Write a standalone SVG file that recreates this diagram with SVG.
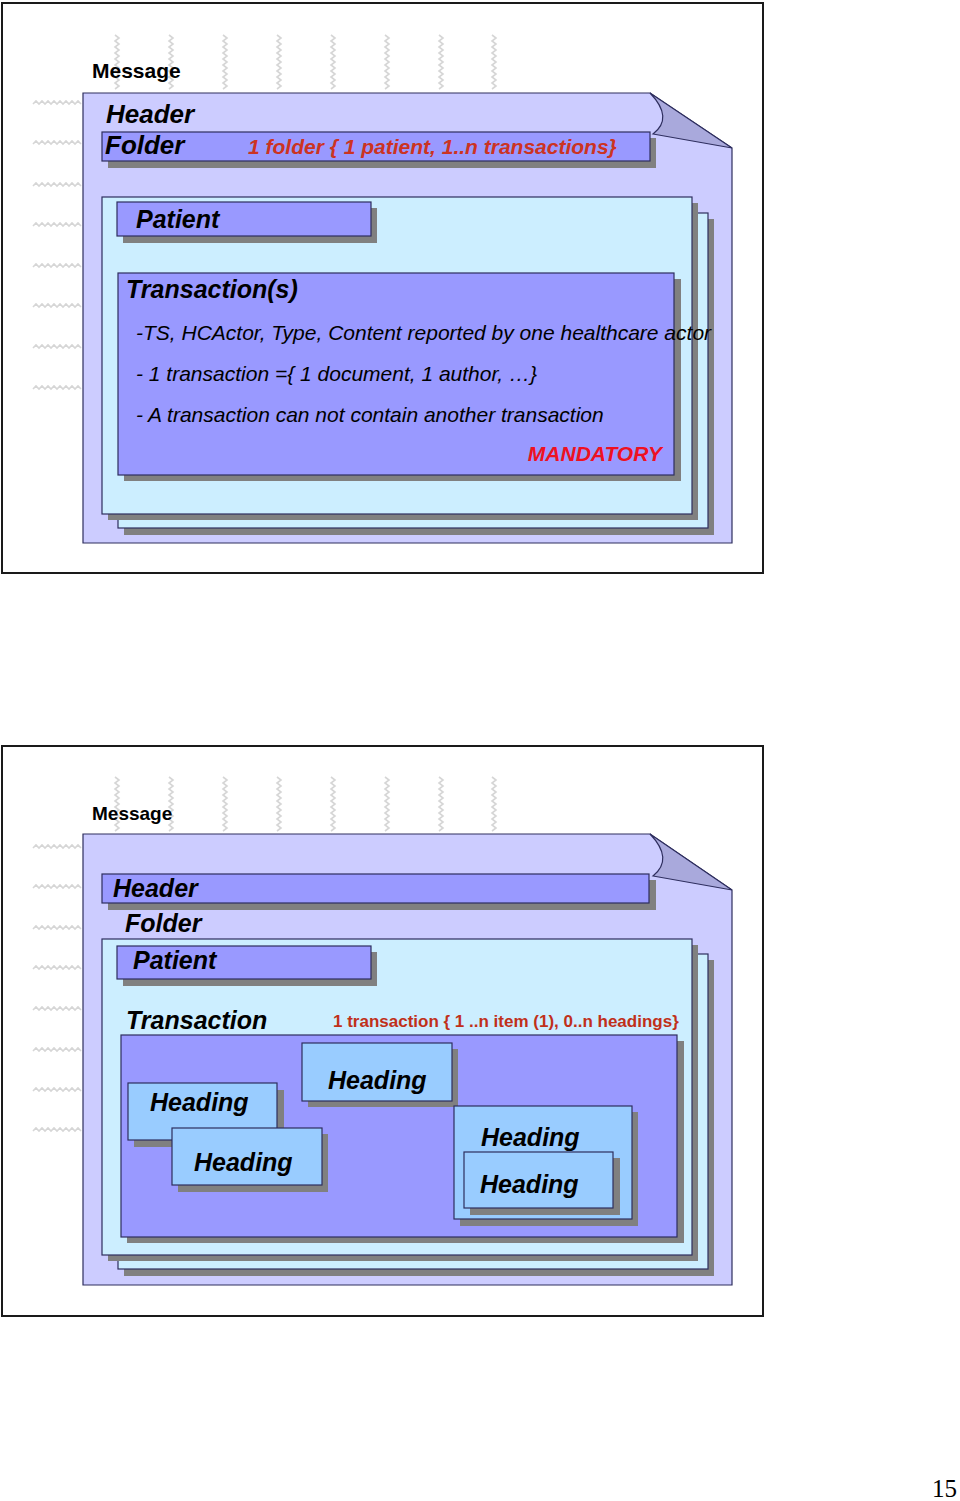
<svg xmlns="http://www.w3.org/2000/svg" xmlns:xlink="http://www.w3.org/1999/xlink" width="960" height="1501" viewBox="0 0 960 1501">
<style>
.frame{fill:#fff;stroke:#1a1a1a;stroke-width:2}
.panel{fill:#ccccff;stroke:#2e2e5e;stroke-width:1.2}
.flap{fill:#a9a9dc;stroke:#2e2e5e;stroke-width:1.2}
.fold{fill:#cceeff;stroke:#2e2e5e;stroke-width:1.2}
.bar{fill:#9999ff;stroke:#2e2e5e;stroke-width:1.2}
.head{fill:#99ccff;stroke:#2e2e5e;stroke-width:1.2}
.sh{fill:#808080}
.wm{fill:none;stroke:#d6d6d6;stroke-width:1.6}
.bi{font-family:"Liberation Sans",Arial,sans-serif;font-weight:bold;font-style:italic;fill:#000}
.b{font-family:"Liberation Sans",Arial,sans-serif;font-weight:bold;fill:#000}
.i{font-family:"Liberation Sans",Arial,sans-serif;font-style:italic;fill:#000;font-size:21px}
.red{fill:#cc3322}
</style>
<defs>
<path id="vsq" class="wm" d="M0,0 l4,3 l-4,3 l4,3 l-4,3 l4,3 l-4,3 l4,3 l-4,3 l4,3 l-4,3 l4,3 l-4,3 l4,3 l-4,3 l4,3 l-4,3 l4,3 l-4,3"/>
<path id="hsq" class="wm" d="M0,0 l3,-3 l3,3 l3,-3 l3,3 l3,-3 l3,3 l3,-3 l3,3 l3,-3 l3,3 l3,-3 l3,3 l3,-3 l3,3 l3,-3 l3,3"/>
</defs>

<g id="slide1">
<rect class="frame" x="2" y="3" width="761" height="570"/>
<g id="watermark1">
<use href="#vsq" x="115" y="35"/><use href="#vsq" x="169" y="35"/><use href="#vsq" x="223" y="35"/><use href="#vsq" x="277" y="35"/>
<use href="#vsq" x="331" y="35"/><use href="#vsq" x="385" y="35"/><use href="#vsq" x="439" y="35"/><use href="#vsq" x="492" y="35"/>
<use href="#hsq" x="33" y="104"/><use href="#hsq" x="33" y="144"/><use href="#hsq" x="33" y="186"/><use href="#hsq" x="33" y="226"/>
<use href="#hsq" x="33" y="267"/><use href="#hsq" x="33" y="307"/><use href="#hsq" x="33" y="348"/><use href="#hsq" x="33" y="389"/>
</g>
<text class="b" x="92" y="78" font-size="21">Message</text>
<g id="s1-message">
<path class="panel" d="M83,93 H650 L732,148 V543 H83 Z"/>
<text class="bi" x="106" y="123" font-size="26">Header</text>
</g>
<g id="s1-folder">
<rect class="sh" x="108" y="138" width="548" height="30"/>
<rect class="bar" x="102" y="132" width="548" height="29"/>
<text class="bi" x="105" y="154" font-size="26">Folder</text>
<text class="bi red" x="248" y="154" font-size="21">1 folder { 1 patient, 1..n transactions}</text>
</g>
<path class="flap" d="M650,93 Q674,118 653,134 L732,148 Z"/>
<g id="s1-patient-folder">
<rect class="sh" x="124" y="219" width="590" height="316"/>
<rect class="fold" x="118" y="213" width="590" height="315"/>
<rect class="sh" x="108" y="203" width="590" height="317"/>
<rect class="fold" x="102" y="197" width="590" height="317"/>
</g>
<g id="s1-patient">
<rect class="sh" x="123" y="208" width="254" height="35"/>
<rect class="bar" x="117" y="202" width="254" height="34"/>
<text class="bi" x="136" y="228" font-size="25">Patient</text>
</g>
<g id="s1-transaction">
<rect class="sh" x="124" y="279" width="557" height="202"/>
<rect class="bar" x="118" y="273" width="556" height="202"/>
<text class="bi" x="126" y="298" font-size="25">Transaction(s)</text>
<text class="i" x="136" y="340">-TS, HCActor, Type, Content reported by one healthcare actor</text>
<text class="i" x="136" y="381">- 1 transaction ={ 1 document, 1 author, …}</text>
<text class="i" x="136" y="422">- A transaction can not contain another transaction</text>
<text class="bi" x="662" y="461" font-size="21" text-anchor="end" fill="#ee1122" style="fill:#ee1122">MANDATORY</text>
</g>
</g>

<g id="slide2">
<rect class="frame" x="2" y="746" width="761" height="570"/>
<g id="watermark2">
<use href="#vsq" x="115" y="777"/><use href="#vsq" x="169" y="777"/><use href="#vsq" x="223" y="777"/><use href="#vsq" x="277" y="777"/>
<use href="#vsq" x="331" y="777"/><use href="#vsq" x="385" y="777"/><use href="#vsq" x="439" y="777"/><use href="#vsq" x="492" y="777"/>
<use href="#hsq" x="33" y="848"/><use href="#hsq" x="33" y="888"/><use href="#hsq" x="33" y="929"/><use href="#hsq" x="33" y="969"/>
<use href="#hsq" x="33" y="1010"/><use href="#hsq" x="33" y="1051"/><use href="#hsq" x="33" y="1091"/><use href="#hsq" x="33" y="1131"/>
</g>
<text class="b" x="92" y="820" font-size="19">Message</text>
<g id="s2-message">
<path class="panel" d="M83,834 H650 L732,890 V1285 H83 Z"/>
</g>
<g id="s2-header">
<rect class="sh" x="108" y="880" width="548" height="30"/>
<rect class="bar" x="102" y="874" width="547" height="29"/>
<text class="bi" x="113" y="897" font-size="25">Header</text>
</g>
<path class="flap" d="M650,834 Q674,859 653,876 L732,890 Z"/>
<text class="bi" x="125" y="932" font-size="25">Folder</text>
<g id="s2-patient-folder">
<rect class="sh" x="124" y="960" width="590" height="316"/>
<rect class="fold" x="118" y="954" width="590" height="315"/>
<rect class="sh" x="108" y="945" width="590" height="316"/>
<rect class="fold" x="102" y="939" width="590" height="316"/>
</g>
<g id="s2-patient">
<rect class="sh" x="123" y="952" width="254" height="34"/>
<rect class="bar" x="117" y="946" width="254" height="33"/>
<text class="bi" x="133" y="969" font-size="25">Patient</text>
</g>
<text class="bi" x="126" y="1029" font-size="25">Transaction</text>
<text class="b" x="333" y="1027" font-size="17" style="fill:#c0301a">1 transaction { 1 ..n item (1), 0..n headings}</text>
<g id="s2-transaction">
<rect class="sh" x="127" y="1041" width="557" height="202"/>
<rect class="bar" x="121" y="1035" width="556" height="202"/>
</g>
<g id="s2-heading-3">
<rect class="sh" x="308" y="1049" width="150" height="58"/>
<rect class="head" x="302" y="1043" width="150" height="58"/>
<text class="bi" x="328" y="1089" font-size="25">Heading</text>
</g>
<g id="s2-heading-1">
<rect class="sh" x="134" y="1090" width="150" height="57"/>
<rect class="head" x="128" y="1083" width="149" height="57"/>
<text class="bi" x="150" y="1111" font-size="25">Heading</text>
</g>
<g id="s2-heading-2">
<rect class="sh" x="178" y="1134" width="150" height="58"/>
<rect class="head" x="172" y="1128" width="150" height="57"/>
<text class="bi" x="194" y="1171" font-size="25">Heading</text>
</g>
<g id="s2-heading-4">
<rect class="sh" x="460" y="1112" width="178" height="114"/>
<rect class="head" x="454" y="1106" width="178" height="113"/>
<text class="bi" x="481" y="1146" font-size="25">Heading</text>
</g>
<g id="s2-heading-5">
<rect class="sh" x="470" y="1158" width="150" height="57"/>
<rect class="head" x="464" y="1152" width="149" height="56"/>
<text class="bi" x="480" y="1193" font-size="25">Heading</text>
</g>
</g>

<g id="connectors"></g>

<text x="957" y="1497" text-anchor="end" font-family="'Liberation Serif','Times New Roman',serif" font-size="25" fill="#000">15</text>
</svg>
